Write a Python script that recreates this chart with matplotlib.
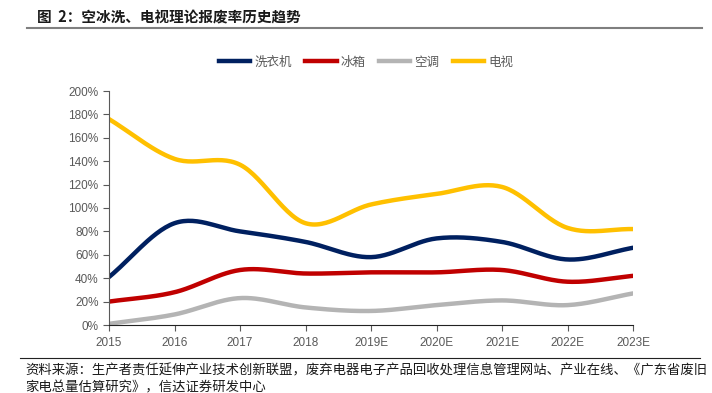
import numpy as np
import matplotlib
matplotlib.use("Agg")
import matplotlib.pyplot as plt
from matplotlib.lines import Line2D

plt.rcParams['font.family'] = ['Noto Sans CJK SC', 'DejaVu Sans']

years = ["2015", "2016", "2017", "2018", "2019E", "2020E", "2021E", "2022E", "2023E"]
washer = [41, 87, 80, 71, 58, 74, 71, 56, 66]
fridge = [20, 28, 47, 44, 45, 45, 47, 37, 42]
aircon = [1, 9, 23, 15, 12, 17, 21, 17, 27]
tv = [176, 142, 137, 87, 103, 112, 118, 83, 82]

series = [("洗衣机", washer, "#002060"), ("冰箱", fridge, "#C00000"),
          ("空调", aircon, "#B4B4B4"), ("电视", tv, "#FFC000")]


def smooth(x, y, n=30):
    # Catmull-Rom spline (Excel-style smoothed line)
    x = np.asarray(x, float); y = np.asarray(y, float)
    px = np.concatenate([[2 * x[0] - x[1]], x, [2 * x[-1] - x[-2]]])
    py = np.concatenate([[2 * y[0] - y[1]], y, [2 * y[-1] - y[-2]]])
    xs, ys = [], []
    t = np.linspace(0, 1, n)
    for i in range(1, len(px) - 2):
        for arr, out in ((px, xs), (py, ys)):
            p0, p1, p2, p3 = arr[i - 1], arr[i], arr[i + 1], arr[i + 2]
            out.extend(0.5 * ((2 * p1) + (-p0 + p2) * t + (2 * p0 - 5 * p1 + 4 * p2 - p3) * t ** 2
                              + (-p0 + 3 * p1 - 3 * p2 + p3) * t ** 3))
    return np.array(xs), np.array(ys)


fig = plt.figure(figsize=(7.12, 3.93), dpi=100)
ax = fig.add_axes([109 / 712, 1 - 325 / 393, (633 - 109) / 712, (325 - 91) / 393])

xi = np.arange(len(years))
for name, vals, col in series:
    sx, sy = smooth(xi, vals)
    ax.plot(sx, sy, color=col, lw=3.2, solid_capstyle='round', label=name)

ax.set_xlim(0, len(years) - 1)
ax.set_ylim(0, 200)
ax.set_yticks(range(0, 201, 20))
ax.set_yticklabels([f"{v}%" for v in range(0, 201, 20)])
ax.set_xticks(xi)
ax.set_xticklabels(years)
for s in ["top", "right"]:
    ax.spines[s].set_visible(False)
ax.spines["left"].set_color("#595959")
ax.spines["bottom"].set_color("#222222")
ax.tick_params(axis='both', direction='out', length=4, colors="#595959", labelsize=8.5, width=0.8)
ax.tick_params(axis='x', pad=5)
for lab in ax.get_xticklabels() + ax.get_yticklabels():
    lab.set_family(['Liberation Sans', 'DejaVu Sans'])
    lab.set_color("#595959")

handles = [Line2D([0], [0], color=c, lw=3.2) for _, _, c in series]
fig.legend(handles, [n for n, _, _ in series], loc='center', bbox_to_anchor=(366 / 712, 1 - 62 / 393),
           ncol=4, frameon=False, fontsize=9, handlelength=2.5, columnspacing=1.1, handletextpad=0.3,
           labelcolor="#595959")

fig.text(37 / 712, 1 - 17 / 393, "图  2：空冰洗、电视理论报废率历史趋势", fontsize=10.5, fontweight='bold',
         color="#1a1a1a", va='center', ha='left')
fig.add_artist(Line2D([27 / 712, 702 / 712], [1 - 28 / 393, 1 - 28 / 393], color="#7f7f7f", lw=1.5))

fig.add_artist(Line2D([20 / 712, 700 / 712], [1 - 358 / 393, 1 - 358 / 393], color="#222222", lw=0.8))
fig.text(25 / 712, 1 - 370 / 393,
         "资料来源：生产者责任延伸产业技术创新联盟，废弃电器电子产品回收处理信息管理网站、产业在线、《广东省废旧",
         fontsize=9.6, color="#1a1a1a", va='center', ha='left', style='italic')
fig.text(25 / 712, 1 - 387 / 393, "家电总量估算研究》，信达证券研发中心",
         fontsize=9.6, color="#1a1a1a", va='center', ha='left', style='italic')

fig.savefig("out.png", dpi=100)
